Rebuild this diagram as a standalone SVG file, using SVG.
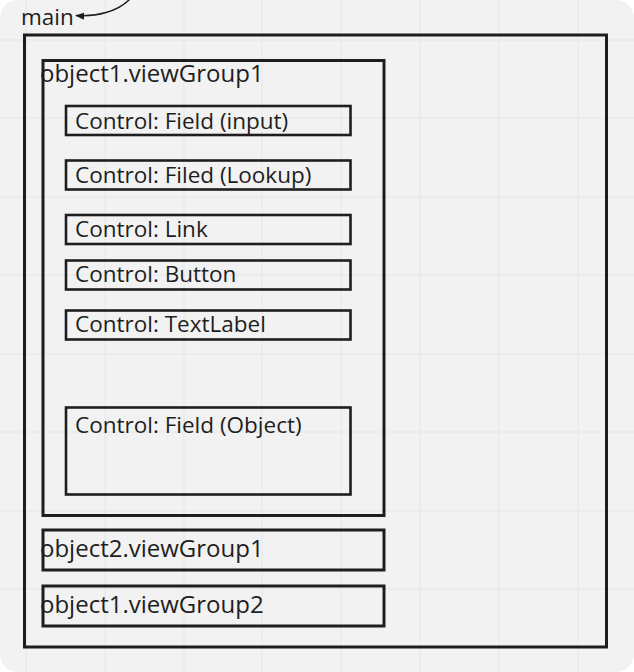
<svg xmlns="http://www.w3.org/2000/svg" width="634" height="672" viewBox="0 0 634 672">
<defs>
<style>
.box{fill:none;stroke:#1e1e1e;stroke-width:3}
.ctl{fill:none;stroke:#1e1e1e;stroke-width:2.6}
.t{font-family:"Open Sans","Noto Sans",sans-serif;font-size:22.5px;fill:#1e1e1e}
.g{font-family:"Open Sans","Noto Sans",sans-serif;font-size:24px;fill:#1e1e1e}
.grid{stroke:#e6e6e6;stroke-width:1}
</style>
<marker id="ah" viewBox="0 0 10 10" refX="9" refY="5" markerWidth="6" markerHeight="6" orient="auto">
<path d="M0,1 L10,5 L0,9 Z" fill="#1e1e1e"/>
</marker>
</defs>
<rect width="634" height="672" fill="#ffffff"/>
<rect x="0" y="0" width="634" height="672" rx="18" fill="#f2f2f2"/>
<g id="grid">
<line class="grid" x1="26" y1="0" x2="26" y2="672"/>
<line class="grid" x1="105" y1="0" x2="105" y2="672"/>
<line class="grid" x1="184" y1="0" x2="184" y2="672"/>
<line class="grid" x1="262" y1="0" x2="262" y2="672"/>
<line class="grid" x1="341" y1="0" x2="341" y2="672"/>
<line class="grid" x1="420" y1="0" x2="420" y2="672"/>
<line class="grid" x1="499" y1="0" x2="499" y2="672"/>
<line class="grid" x1="578" y1="0" x2="578" y2="672"/>
<line class="grid" x1="0" y1="40" x2="634" y2="40"/>
<line class="grid" x1="0" y1="118" x2="634" y2="118"/>
<line class="grid" x1="0" y1="197" x2="634" y2="197"/>
<line class="grid" x1="0" y1="275" x2="634" y2="275"/>
<line class="grid" x1="0" y1="354" x2="634" y2="354"/>
<line class="grid" x1="0" y1="432" x2="634" y2="432"/>
<line class="grid" x1="0" y1="511" x2="634" y2="511"/>
<line class="grid" x1="0" y1="589" x2="634" y2="589"/>
</g>
<g id="main">
<rect class="box" x="24.5" y="35" width="582" height="612"/>
<text class="t" x="21" y="25" font-size="22px">main</text>
</g>
<g id="object1-viewGroup1">
<rect class="box" x="43" y="60.5" width="341" height="455"/>
<text class="g" x="40" y="82">object1.viewGroup1</text>
</g>
<g id="field-input">
<rect class="ctl" x="66" y="106" width="284.5" height="29"/>
<text class="t" x="75" y="129">Control: Field (input)</text>
</g>
<g id="field-lookup">
<rect class="ctl" x="66" y="160.5" width="284.5" height="29"/>
<text class="t" x="75" y="183">Control: Filed (Lookup)</text>
</g>
<g id="link">
<rect class="ctl" x="66" y="215" width="284.5" height="29"/>
<text class="t" x="75" y="237">Control: Link</text>
</g>
<g id="button">
<rect class="ctl" x="66" y="260.5" width="284.5" height="29"/>
<text class="t" x="75" y="282">Control: Button</text>
</g>
<g id="textlabel">
<rect class="ctl" x="66" y="310.5" width="284.5" height="29"/>
<text class="t" x="75" y="332">Control: TextLabel</text>
</g>
<g id="field-object">
<rect class="ctl" x="66" y="407.5" width="284.5" height="87"/>
<text class="t" x="75" y="433">Control: Field (Object)</text>
</g>
<g id="object2-viewGroup1">
<rect class="box" x="43" y="530" width="341" height="40"/>
<text class="g" x="40" y="557">object2.viewGroup1</text>
</g>
<g id="object1-viewGroup2">
<rect class="box" x="43" y="586" width="341" height="40"/>
<text class="g" x="40" y="613">object1.viewGroup2</text>
</g>
<g id="connectors">
<path d="M131,-2 C118,12 96,17 76,15.5" fill="none" stroke="#1e1e1e" stroke-width="1.5" marker-end="url(#ah)"/>
</g>
</svg>
